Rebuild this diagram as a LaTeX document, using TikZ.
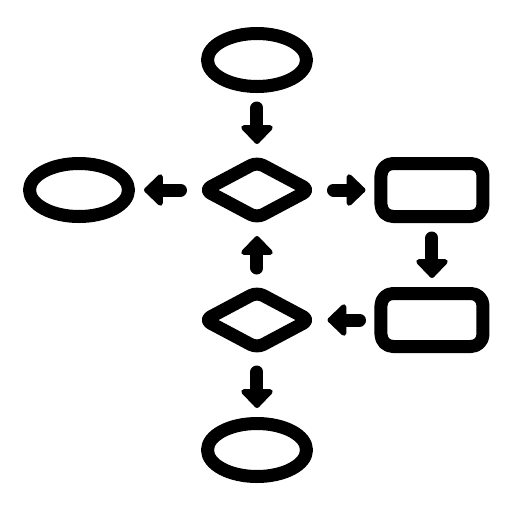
\documentclass[tikz,border=0pt]{standalone}
\usetikzlibrary{arrows.meta,shapes.geometric,positioning}

\begin{document}
\begin{tikzpicture}[line width=0.26cm,line join=round,node distance=2.6cm,on grid,
  term/.style={draw,ellipse,inner sep=0pt,minimum width=1.98cm,minimum height=1.06cm},
  test/.style={draw,diamond,inner sep=0pt,minimum width=2.2cm,minimum height=1.22cm,rounded corners=4pt},
  proc/.style={draw,rectangle,inner sep=0pt,minimum width=2.04cm,minimum height=1.06cm,rounded corners=0.24cm},
  conn/.style={line cap=round,-{Triangle[round,length=0.4cm,width=0.74cm]},shorten <=0.3cm,shorten >=0.18cm}]
% frame of the 512px picture
  \useasboundingbox (-5.14,1.2) rectangle (5.1,-9.04);

  \node[term]  (start)                          {};
  \node[test]  (q1)    [below=of start]         {};
  \node[term]  (stop1) [left=3.56cm of q1]      {};
  \node[proc]  (p1)    [right=3.5cm of q1]      {};
  \node[proc]  (p2)    [below=of p1]            {};
  \node[test]  (q2)    [below=of q1]            {};
  \node[term]  (stop2) [below=of q2]            {};

% connectors
  \path[conn]
    (start) edge (q1)
    (q1)    edge (stop1)
    (q1)    edge (p1)
    (p1)    edge (p2)
    (p2)    edge (q2)
    (q2)    edge (q1)
    (q2)    edge (stop2);
\end{tikzpicture}
\end{document}
